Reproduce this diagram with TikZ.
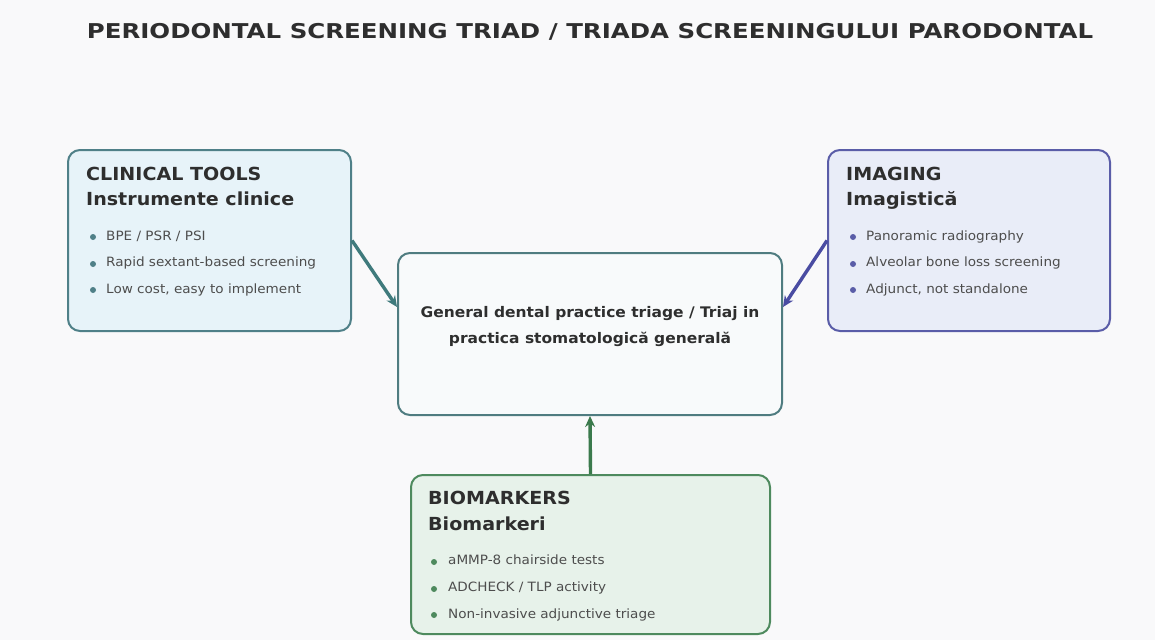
\documentclass[tikz,border=0pt]{standalone}
\usepackage{fontspec}
\setmainfont{DejaVu Sans}[FakeStretch=1.06]
\newfontfamily\titlefont{DejaVu Sans}[FakeStretch=1.2]
\usetikzlibrary{arrows.meta}
\definecolor{bgc}{HTML}{F9F9FA}
\definecolor{txt}{HTML}{2E2E2E}
\definecolor{clinF}{HTML}{E7F3F9}
\definecolor{clinD}{HTML}{4F8088}
\definecolor{imgF}{HTML}{E9EDF8}
\definecolor{imgD}{HTML}{5A5DA8}
\definecolor{cenF}{HTML}{F8FAFB}
\definecolor{cenD}{HTML}{4F7C80}
\definecolor{bioF}{HTML}{E7F2EA}
\definecolor{bioD}{HTML}{4E8A5E}
\definecolor{clinA}{HTML}{3F7A7C}
\definecolor{imgA}{HTML}{4A4CA2}
\definecolor{bioA}{HTML}{3B7A4C}
\tikzset{
  box/.style={draw, line width=2pt, rounded corners=12pt, inner sep=0pt},
  head/.style={anchor=base west, inner sep=0pt, text=txt, font=\bfseries\fontsize{18}{22}\selectfont},
  item/.style={anchor=base west, inner sep=0pt, text=txt!85, font=\fontsize{12.8}{15}\selectfont},
  dot/.style={circle, inner sep=0pt, minimum size=6pt},
  cline/.style={anchor=base, inner sep=0pt, text=txt, font=\bfseries\fontsize{14.6}{17}\selectfont},
  conn/.style={line width=3.4pt, -{Stealth[length=11pt,width=10pt]}},
}
\begin{document}
\begin{tikzpicture}[x=1pt,y=-1pt]
\useasboundingbox[fill=bgc] (0,0) rectangle (1155,640);
\node[anchor=base, inner sep=0pt, text=txt, font=\titlefont\bfseries\fontsize{20.4}{24}\selectfont] (title) at (590,38) {PERIODONTAL SCREENING TRIAD / TRIADA SCREENINGULUI PARODONTAL};

% boxes
\node[box, draw=clinD, fill=clinF, minimum width=283pt, minimum height=181pt] (clin) at (209.5,240.5) {};
\node[box, draw=imgD, fill=imgF, minimum width=282pt, minimum height=181pt] (img) at (969,240.5) {};
\node[box, draw=cenD, fill=cenF, minimum width=384pt, minimum height=162pt] (cen) at (590,334) {};
\node[box, draw=bioD, fill=bioF, minimum width=359pt, minimum height=159pt] (bio) at (590.5,554.5) {};

% clinical
\node[head] (c1) at (86,180) {CLINICAL TOOLS};
\node[head] (c2) at (86,205) {Instrumente clinice};
\node[dot, fill=clinD] (cd1) at (93,237) {};
\node[item] (ci1) at (106,240) {BPE / PSR / PSI};
\node[dot, fill=clinD] (cd2) at (93,264) {};
\node[item] (ci2) at (106,266.5) {Rapid sextant-based screening};
\node[dot, fill=clinD] (cd3) at (93,290) {};
\node[item] (ci3) at (106,293) {Low cost, easy to implement};

% imaging
\node[head] (i1) at (846,180) {IMAGING};
\node[head] (i2) at (846,205) {Imagistică};
\node[dot, fill=imgD] (id1) at (853,237) {};
\node[item] (ii1) at (866,240) {Panoramic radiography};
\node[dot, fill=imgD] (id2) at (853,264) {};
\node[item] (ii2) at (866,266.5) {Alveolar bone loss screening};
\node[dot, fill=imgD] (id3) at (853,290) {};
\node[item] (ii3) at (866,293) {Adjunct, not standalone};

% center
\node[cline] (cl1) at (590,317) {General dental practice triage / Triaj in};
\node[cline] (cl2) at (590,343) {practica stomatologică generală};

% biomarkers
\node[head] (b1) at (428,504) {BIOMARKERS};
\node[head] (b2) at (428,530) {Biomarkeri};
\node[dot, fill=bioD] (bd1) at (434,562) {};
\node[item] (bi1) at (448,564.5) {aMMP-8 chairside tests};
\node[dot, fill=bioD] (bd2) at (434,589) {};
\node[item] (bi2) at (448,591.5) {ADCHECK / TLP activity};
\node[dot, fill=bioD] (bd3) at (434,615) {};
\node[item] (bi3) at (448,618) {Non-invasive adjunctive triage};

% connectors
\draw[conn, draw=clinA, fill=clinA] (clin.east) -- ([yshift=27pt]cen.west);
\draw[conn, draw=imgA, fill=imgA] (img.west) -- ([yshift=27pt]cen.east);
\draw[conn, draw=bioA, fill=bioA] (bio.north) -- (cen.south);
\end{tikzpicture}
\end{document}
